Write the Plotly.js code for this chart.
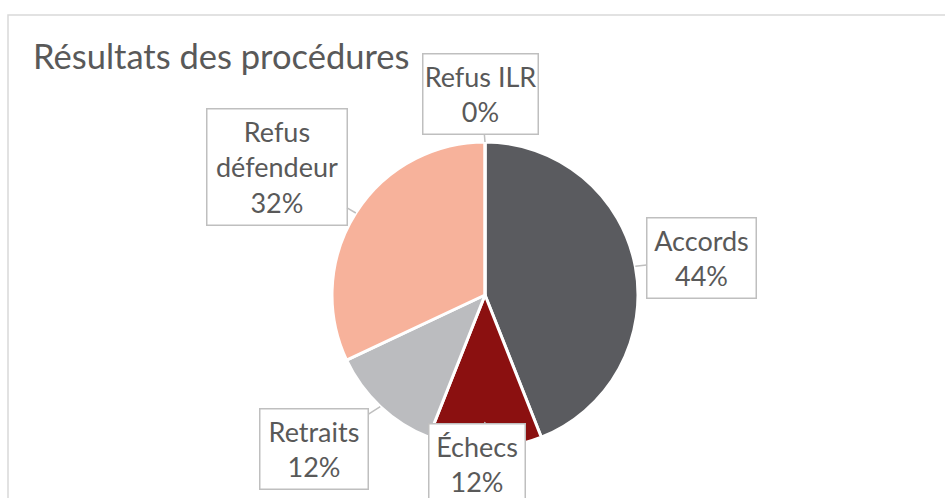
<!DOCTYPE html>
<html><head><meta charset="utf-8">
<script src="https://cdn.plot.ly/plotly-3.0.1.min.js"></script>
<style>html,body{margin:0;padding:0;background:#fff}#chart{width:945px;height:498px}</style>
</head><body><div id="chart"></div>
<script>
const titleText = "Résultats des procédures";
const labels = ["Accords", "Échecs", "Retraits", "Refus défendeur", "Refus ILR"];
const values = [44, 12, 12, 32, 0];
const colors = ["#5a5b5f", "#8b1010", "#bbbcbf", "#f7b29b", "#a5a5a5"];
// label box offsets (pixels, from anchor on slice edge to box centre)
const boxOffsets = [[66, -8], [-8, 42], [-66, 42], [-79, -46], [-4, -48]];
const boxSizes = [[108, 79], [95, 79], [107, 79], [139, 115], [114, 79]];
const anchorR = [1.0, 0.83, 1.0, 1.0, 1.0];

const W = 945, H = 498;
const cx = 485, cy = 295, R = 153;
const dom = {x: [(cx - R) / W, (cx + R) / W], y: [1 - (cy + R) / H, 1 - (cy - R) / H]};

const total = values.reduce((a, b) => a + b, 0);
let cum = 0;
const annotations = [];
values.forEach((v, i) => {
  const mid = (cum + v / 2) / total * 2 * Math.PI;
  cum += v;
  const px = cx + anchorR[i] * R * Math.sin(mid);
  const py = cy - anchorR[i] * R * Math.cos(mid);
  const name = labels[i].length > 10 ? labels[i].replace(" ", "<br>") : labels[i];
  annotations.push({
    xref: "paper", yref: "paper",
    x: px / W, y: 1 - py / H,
    ax: boxOffsets[i][0], ay: boxOffsets[i][1],
    text: name + "<br>" + v + "%",
    showarrow: true, arrowhead: 0, arrowwidth: 1.5, arrowcolor: "#bfbfbf",
    standoff: 0,
    bordercolor: "#bfbfbf", borderwidth: 1.5, borderpad: 0, bgcolor: "#ffffff",
    width: boxSizes[i][0], height: boxSizes[i][1],
    font: {family: "Lato, 'Open Sans', sans-serif", size: 27, color: "#595959"}
  });
});

const data = [{
  type: "pie",
  labels: labels, values: values,
  sort: false, direction: "clockwise", rotation: 0,
  marker: {colors: colors, line: {color: "#ffffff", width: 3}},
  textinfo: "none", hoverinfo: "label+percent",
  domain: dom, showlegend: false
}];

const layout = {
  width: W, height: H,
  margin: {l: 0, r: 0, t: 0, b: 0},
  paper_bgcolor: "#ffffff",
  showlegend: false,
  title: {
    text: titleText,
    x: 33 / W, xanchor: "left", xref: "paper",
    y: 1 - 57 / H, yanchor: "middle", yref: "container",
    font: {family: "Lato, 'Open Sans', sans-serif", size: 34.5, color: "#595959"}
  },
  shapes: [{
    type: "rect", xref: "paper", yref: "paper",
    x0: 8 / W, x1: 1.05, y0: -0.05, y1: 1 - 15 / H,
    line: {color: "#d9d9d9", width: 1.5}
  }],
  annotations: annotations
};

Plotly.newPlot("chart", data, layout, {displayModeBar: false, staticPlot: true});
</script>
</body></html>
